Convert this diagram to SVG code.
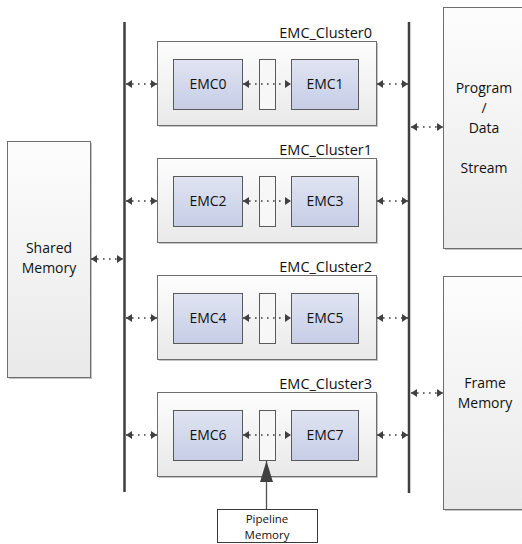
<svg xmlns="http://www.w3.org/2000/svg" width="522" height="544" viewBox="0 0 522 544">
  <defs>
    <linearGradient id="gBox" x1="0" y1="0" x2="0" y2="1">
      <stop offset="0" stop-color="#fdfdfd"/>
      <stop offset="1" stop-color="#e9e9e9"/>
    </linearGradient>
    <linearGradient id="gEmc" x1="0" y1="0" x2="0" y2="1">
      <stop offset="0" stop-color="#e0e4f2"/>
      <stop offset="1" stop-color="#c6cde6"/>
    </linearGradient>
    <marker id="ah" viewBox="0 0 6 8" refX="6" refY="4" markerWidth="6" markerHeight="8" markerUnits="userSpaceOnUse" orient="auto-start-reverse">
      <path d="M0,0 L6,4 L0,8 Z" fill="#404040"/>
    </marker>
    <marker id="big" viewBox="0 0 21 13" refX="21" refY="6.5" markerWidth="21" markerHeight="13" markerUnits="userSpaceOnUse" orient="auto">
      <path d="M0,0 L21,6.5 L0,13 Z" fill="#404040"/>
    </marker>
  </defs>
  <style>
    text { font-family: "Open Sans", "Liberation Sans", sans-serif; fill: #111111; text-anchor: middle; }
    .t { font-size: 14px; }
    .cl { font-size: 14.5px; text-anchor: end; }
    .sm { font-size: 11.5px; }
    .shadow { fill: #c4c4c4; }
    .box { fill: url(#gBox); stroke: #6e6e6e; stroke-width: 1; }
    .emc { fill: url(#gEmc); stroke: #5a5a5a; stroke-width: 1; }
    .pipe { fill: #f7f7f7; stroke: #5a5a5a; stroke-width: 1; }
    .bus { stroke: #3f3f3f; stroke-width: 2.5; fill: none; }
    .dot { stroke: #404040; stroke-width: 1.6; stroke-dasharray: 1.6 4.4; fill: none; marker-start: url(#ah); marker-end: url(#ah); }
    .solid { stroke: #505050; stroke-width: 1.3; fill: none; marker-end: url(#big); }
  </style>

  <!-- memories -->
  <g id="shared-memory">
    <rect class="shadow" x="9" y="143" width="83" height="236"/>
    <rect class="box" x="7.5" y="141.5" width="83" height="236"/>
    <text class="t" x="49" y="253">Shared</text>
    <text class="t" x="49" y="273">Memory</text>
  </g>
  <g id="program-data-stream">
    <rect class="shadow" x="445" y="9" width="90" height="241"/>
    <rect class="box" x="443.5" y="7.5" width="90" height="241"/>
    <text class="t" x="484" y="93">Program</text>
    <text class="t" x="484" y="113">/</text>
    <text class="t" x="484" y="133">Data</text>
    <text class="t" x="484" y="173">Stream</text>
  </g>
  <g id="frame-memory">
    <rect class="shadow" x="445" y="278" width="90" height="233"/>
    <rect class="box" x="443.5" y="276.5" width="90" height="233"/>
    <text class="t" x="485" y="388">Frame</text>
    <text class="t" x="485" y="408">Memory</text>
  </g>
  <g id="pipeline-memory">
    <rect x="217.5" y="509.5" width="100" height="33" fill="#ffffff" stroke="#3a3a3a" stroke-width="1"/>
    <text class="sm" x="267" y="523">Pipeline</text>
    <text class="sm" x="267" y="539">Memory</text>
  </g>

  <!-- clusters -->
  <g id="cluster0">
    <text class="cl" x="372" y="38">EMC_Cluster0</text>
    <rect class="shadow" x="159" y="43" width="219" height="84"/>
    <rect class="box" x="157.5" y="41.5" width="219" height="84"/>
    <g id="emc0"><rect class="emc" x="173.5" y="59.5" width="69" height="50"/><text class="t" x="208" y="89">EMC0</text></g>
    <rect class="pipe" x="259.5" y="59.5" width="16" height="50"/>
    <g id="emc1"><rect class="emc" x="291.5" y="59.5" width="67" height="50"/><text class="t" x="325" y="89">EMC1</text></g>
  </g>
  <g id="cluster1">
    <text class="cl" x="372" y="155">EMC_Cluster1</text>
    <rect class="shadow" x="159" y="160" width="219" height="84"/>
    <rect class="box" x="157.5" y="158.5" width="219" height="84"/>
    <g id="emc2"><rect class="emc" x="173.5" y="176.5" width="69" height="50"/><text class="t" x="208" y="206">EMC2</text></g>
    <rect class="pipe" x="259.5" y="176.5" width="16" height="50"/>
    <g id="emc3"><rect class="emc" x="291.5" y="176.5" width="67" height="50"/><text class="t" x="325" y="206">EMC3</text></g>
  </g>
  <g id="cluster2">
    <text class="cl" x="372" y="272">EMC_Cluster2</text>
    <rect class="shadow" x="159" y="277" width="219" height="84"/>
    <rect class="box" x="157.5" y="275.5" width="219" height="84"/>
    <g id="emc4"><rect class="emc" x="173.5" y="293.5" width="69" height="50"/><text class="t" x="208" y="323">EMC4</text></g>
    <rect class="pipe" x="259.5" y="293.5" width="16" height="50"/>
    <g id="emc5"><rect class="emc" x="291.5" y="293.5" width="67" height="50"/><text class="t" x="325" y="323">EMC5</text></g>
  </g>
  <g id="cluster3">
    <text class="cl" x="372" y="389">EMC_Cluster3</text>
    <rect class="shadow" x="159" y="394" width="219" height="84"/>
    <rect class="box" x="157.5" y="392.5" width="219" height="84"/>
    <g id="emc6"><rect class="emc" x="173.5" y="410.5" width="69" height="50"/><text class="t" x="208" y="440">EMC6</text></g>
    <rect class="pipe" x="259.5" y="410.5" width="16" height="50"/>
    <g id="emc7"><rect class="emc" x="291.5" y="410.5" width="67" height="50"/><text class="t" x="325" y="440">EMC7</text></g>
  </g>

  <!-- buses and connectors -->
  <g id="connectors">
    <line class="bus" x1="124.5" y1="22" x2="124.5" y2="492"/>
    <line class="bus" x1="409" y1="22" x2="409" y2="493"/>

    <path class="dot" d="M126,84 H157"/>
    <path class="dot" d="M126,201 H157"/>
    <path class="dot" d="M126,318 H157"/>
    <path class="dot" d="M126,435 H157"/>

    <path class="dot" d="M377,84 H408"/>
    <path class="dot" d="M377,201 H408"/>
    <path class="dot" d="M377,318 H408"/>
    <path class="dot" d="M377,435 H408"/>

    <path class="dot" d="M243,84 H291"/>
    <path class="dot" d="M243,201 H291"/>
    <path class="dot" d="M243,318 H291"/>
    <path class="dot" d="M243,435 H291"/>

    <path class="dot" d="M91,259 H123"/>
    <path class="dot" d="M411,127 H443"/>
    <path class="dot" d="M411,393 H443"/>

    <path class="solid" d="M266.5,509 V461"/>
  </g>
</svg>
